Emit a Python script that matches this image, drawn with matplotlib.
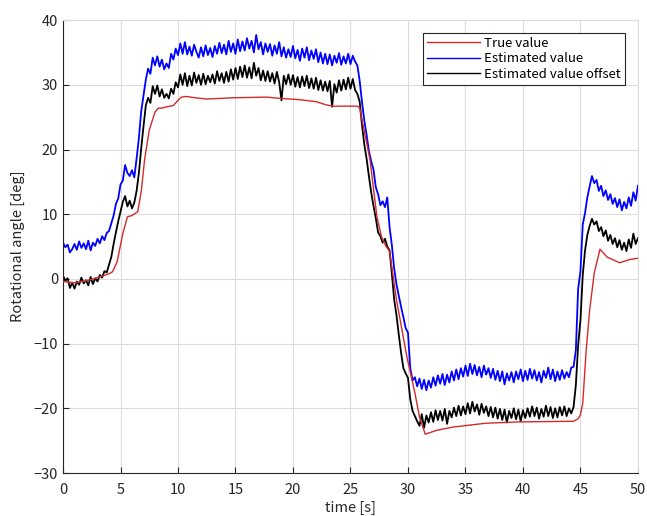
import numpy as np
import matplotlib
matplotlib.use("Agg")
import matplotlib.pyplot as plt

plt.rcParams['font.family'] = ['Noto Sans CJK JP', 'DejaVu Sans']

# Valores
# Estimated value (azul), muestras cada 0.2 s desde 0 hasta 50
t_est = np.arange(251) * 0.2
est = [
    5.6, 4.9, 5.3, 4.1, 4.6, 5.4, 4.5, 5.8, 4.8, 5.5,
    4.6, 5.9, 4.4, 5.6, 5.1, 6.2, 5.5, 6.6, 6.0, 7.1,
    7.4, 8.6, 9.8, 11.6, 12.4, 14.6, 15.2, 17.6, 16.4, 15.9,
    16.8, 15.7, 18.6, 21.8, 25.9, 28.4, 30.8, 32.5, 31.7, 34.2,
    33.0, 34.4, 32.8, 33.9, 32.4, 33.3, 32.6, 34.8, 33.9, 35.6,
    34.6, 36.4, 34.8, 36.6, 34.7, 35.9, 34.5, 36.2, 35.1, 34.2,
    35.8, 34.4, 36.1, 34.6, 35.7, 34.3, 36.0, 34.8, 36.5, 34.9,
    36.2, 34.7, 36.8, 35.1, 36.4, 34.8, 37.0, 35.2, 36.7, 35.3,
    37.2, 35.6, 36.8, 35.0, 37.7, 35.5, 36.6, 34.7, 36.4, 35.1,
    36.3, 34.5, 36.1, 34.8, 36.6, 34.4, 35.8, 34.2, 35.5, 34.3,
    36.0, 34.1, 35.4, 33.7, 35.6, 34.2, 35.8, 33.8, 35.3, 34.0,
    35.5, 33.5, 35.0, 33.3, 34.8, 33.2, 34.7, 33.0, 34.5, 33.4,
    34.9, 33.1, 34.4, 33.3, 34.8, 33.2, 34.5, 33.6, 33.0, 30.6,
    27.4, 24.5, 22.3, 19.8, 18.2, 16.9, 14.2, 13.1, 11.4, 12.0,
    11.1, 12.6, 8.0, 5.2, 1.6, -0.8, -2.6, -4.3, -5.9, -7.6,
    -8.3, -13.8, -15.7, -15.2, -16.6, -15.4, -17.0, -15.6, -17.2, -15.7,
    -16.8, -15.2, -16.5, -14.9, -16.2, -14.7, -16.4, -14.8, -16.0, -14.3,
    -15.7, -14.0, -15.5, -13.8, -15.1, -13.4, -15.0, -13.1, -14.7, -13.3,
    -14.9, -13.6, -15.2, -13.4, -14.8, -13.8, -15.3, -13.9, -15.6, -14.2,
    -15.8, -14.3, -16.3, -14.6, -15.7, -14.4, -16.0, -14.3, -15.5, -14.0,
    -15.8, -14.2, -15.6, -13.9, -15.4, -14.1, -15.7, -14.4, -16.0, -14.2,
    -15.3, -13.7, -15.5, -14.0, -15.8, -14.3, -15.6, -14.1, -15.4, -14.4,
    -15.2, -13.7, -13.6, -11.0, -1.5, 1.2, 8.4, 10.2, 12.6, 14.3,
    15.9, 14.8, 15.3, 13.6, 14.4, 12.8, 13.7, 12.2, 13.1, 11.6,
    12.5, 11.1, 12.3, 10.6, 11.9, 10.9, 12.6, 11.3, 13.4, 12.1,
    14.4,
]

# Estimated value offset (negro), mismas muestras
est_off = [
    0.5, -0.3, 0.1, -1.4, -0.6, -1.5, -0.4, -0.9, 0.2, -0.7,
    -0.2, -1.0, 0.3, -0.8, 0.1, -0.4, 0.6, 0.2, 1.2, 1.0,
    2.2, 3.4, 5.4, 7.2, 8.9, 10.4, 11.9, 12.8, 11.2, 12.1,
    10.9, 11.8, 13.6, 16.4, 20.2, 23.6, 26.8, 28.0, 27.2, 29.8,
    28.6, 29.9, 28.2, 29.3, 28.0, 28.6, 27.9, 29.4, 28.6, 30.4,
    29.6, 31.6, 30.0, 31.8, 29.8, 31.4, 29.9, 31.9, 30.3, 31.5,
    30.0, 31.7, 30.1, 31.4, 30.4, 31.6, 30.2, 32.1, 30.6, 31.8,
    30.3, 32.0, 30.5, 32.4, 30.8, 32.6, 30.9, 32.8, 31.2, 33.0,
    31.1, 32.7, 31.0, 33.4, 31.4, 32.6, 30.7, 32.2, 30.6, 32.1,
    30.5, 31.8, 30.2, 32.0, 30.4, 27.6, 31.4, 30.1, 31.6, 30.0,
    31.5, 29.7, 31.2, 29.6, 31.3, 29.8, 31.4, 29.5, 31.0, 29.4,
    31.1, 29.2, 30.7, 29.1, 30.5, 29.0, 30.6, 26.6, 30.1, 28.8,
    30.7, 29.1, 30.8, 29.3, 31.1, 29.4, 30.9, 29.2, 28.6, 27.4,
    23.8, 20.8, 18.6, 15.9, 13.4, 11.3, 9.4, 7.2, 6.6, 5.6,
    6.2, 5.0, 4.4, 0.8, -3.2, -5.6, -8.6, -11.4, -13.8, -14.6,
    -15.3, -18.6, -20.4, -21.2, -22.0, -22.7, -20.9, -23.0, -21.1, -22.2,
    -20.6, -22.1, -20.3, -21.8, -20.4, -21.9, -20.1, -22.4, -20.4, -21.4,
    -19.9, -21.2, -19.6, -21.1, -19.7, -20.9, -19.2, -20.8, -19.0, -20.5,
    -19.4, -21.0, -19.3, -20.7, -19.7, -21.2, -19.8, -21.4, -19.9, -21.6,
    -20.1, -21.8, -20.2, -22.2, -20.4, -21.5, -20.0, -21.7, -20.2, -22.0,
    -20.3, -21.5, -20.0, -21.3, -19.7, -21.2, -19.9, -21.6, -20.1, -21.3,
    -19.6, -21.2, -19.8, -21.5, -20.0, -21.4, -19.8, -21.1, -19.7, -21.2,
    -20.0, -20.8, -19.8, -16.4, -10.2, -6.4, 0.6, 4.4, 6.8, 8.2,
    9.3, 8.4, 8.9, 7.4, 8.0, 6.6, 7.5, 5.9, 6.8, 5.4,
    6.3, 4.9, 6.0, 4.5, 5.6, 4.3, 6.1, 4.8, 7.0, 5.4,
    6.3,
]

# True value (rojo)
t_true = [0, 1, 2, 3, 3.5, 4, 4.3, 4.7, 5.2, 5.6, 6.0, 6.5, 6.8, 7.1, 7.5,
          8.0, 8.3, 8.6, 9.0, 9.6, 10.0, 10.3, 10.7, 11.5, 12.5, 14.8, 17.7,
          18.9, 20.6, 22.0, 22.9, 23.5, 25.6, 25.8, 26.7, 27.3, 27.7, 28.1,
          28.4, 29.0, 29.9, 30.6, 31.0, 31.5, 32.5, 33.9, 36.8, 39.7, 44.4,
          44.8, 45.0, 45.2, 45.5, 45.8, 46.2, 46.7, 47.3, 48.4, 49.3, 50]
true_val = [-0.4, -0.6, -0.3, 0.2, 0.5, 0.8, 1.1, 2.6, 7.0, 9.6, 9.8, 10.4,
            13.5, 18.5, 23.0, 25.8, 26.4, 26.4, 26.6, 26.8, 27.6, 28.1, 28.2,
            28.0, 27.8, 28.0, 28.1, 27.9, 27.7, 27.4, 26.9, 26.7, 26.7, 26.4,
            18.4, 9.6, 6.5, 5.0, 4.3, -3.2, -12.0, -17.6, -21.3, -24.0, -23.4,
            -22.9, -22.3, -22.1, -22.0, -21.6, -21.0, -19.2, -11.0, -4.8, 0.9,
            4.6, 3.4, 2.5, 3.0, 3.2]

fig = plt.figure(figsize=(6.47, 5.16), dpi=100)
ax = fig.add_axes([0.0974, 0.0833, 0.8886, 0.8777])

ax.plot(t_true, true_val, color='#d42a2a', lw=1.0, label='True value', zorder=3)
ax.plot(t_est, est, color='#0000ff', lw=1.3, label='Estimated value', zorder=2)
ax.plot(t_est, est_off, color='black', lw=1.3, label='Estimated value offset', zorder=2)

ax.set_xlim(0, 50)
ax.set_ylim(-30, 40)
ax.set_xticks(np.arange(0, 51, 5))
ax.set_yticks(np.arange(-30, 41, 10))
ax.grid(True, color='#dcdcdc', lw=0.8)
ax.set_axisbelow(True)
ax.tick_params(direction='in', length=4, width=0.8, labelsize=10.5,
               colors='#262626', top=False, right=False)
ax.tick_params(axis='x', pad=7)
for s in ['top', 'right']:
    ax.spines[s].set_color('#dcdcdc')
for s in ['left', 'bottom']:
    ax.spines[s].set_color('#262626')
    ax.spines[s].set_linewidth(0.8)

ax.set_xlabel('time [s]', fontsize=10.5, color='#262626', labelpad=3)
ax.set_ylabel('Rotational angle [deg]', fontsize=10.5, color='#262626', labelpad=6)

leg = ax.legend(loc='upper right', bbox_to_anchor=(0.977, 0.972), fontsize=9.5,
                fancybox=False, framealpha=1, edgecolor='#262626',
                handlelength=4.0, labelspacing=0.2, borderpad=0.3,
                handletextpad=0.3, borderaxespad=0)
leg.get_frame().set_linewidth(0.8)
for line in leg.get_lines():
    line.set_linewidth(1.0)

fig.savefig('out.png', dpi=100)
